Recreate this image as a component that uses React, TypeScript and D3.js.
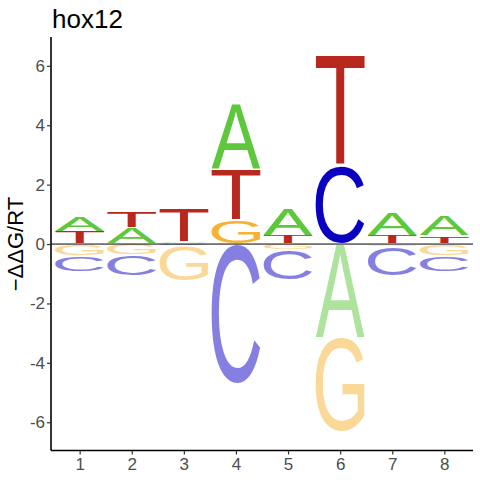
import React, { useRef, useEffect } from 'react';
import * as d3 from 'd3';

// energy logo values (-ddG/RT) per position
const positions = [1, 2, 3, 4, 5, 6, 7, 8];
const bases = ['A', 'C', 'G', 'T'];
const valA = [0.53, 0.54, 0.08, 2.21, 0.92, -3.16, 0.77, 0.68];
const valC = [-0.53, -0.71, -0.06, -4.7, -1.01, 2.62, -0.97, -0.54];
const valG = [-0.4, -0.37, -1.17, 0.81, -0.2, -3.17, -0.1, -0.39];
const valT = [0.41, 0.55, 1.14, 1.71, 0.3, 3.71, 0.3, 0.27];
const yTicks = [-6, -4, -2, 0, 2, 4, 6];
const baseColors = ['#5dc83b', '#0a00c2', '#f6b232', '#b8281f'];

const FONT = "'Liberation Sans', Arial, sans-serif";

const W = 480;
const H = 480;
const margin = { left: 51, right: 7, top: 37, bottom: 29.5 };

// tight ink box of a glyph at 100px
const measureGlyph = (ch: string) => {
  const ctx = document.createElement('canvas').getContext('2d')!;
  ctx.font = `100px ${FONT}`;
  const m = ctx.measureText(ch);
  return {
    left: m.actualBoundingBoxLeft,
    right: m.actualBoundingBoxRight,
    ascent: m.actualBoundingBoxAscent,
    descent: m.actualBoundingBoxDescent,
  };
};

const App: React.FC = () => {
  const svgRef = useRef<SVGSVGElement>(null);

  useEffect(() => {
    const svg = d3.select(svgRef.current);
    svg.selectAll('*').remove();

    const x = d3.scaleLinear().domain([0.45, 8.55]).range([margin.left, W - margin.right]);
    const y = d3.scaleLinear().domain([-6.95, 6.97]).range([H - margin.bottom, margin.top]);

    const series = [valA, valC, valG, valT];
    const glyphs = bases.map(measureGlyph);
    const letterW = 0.94;
    const pad = 0.6;

    const g = svg.append('g');

    positions.forEach((p, i) => {
      const items = bases.map((b, k) => ({ b, k, v: series[k][i] }));
      const pos = items.filter(d => d.v > 0).sort((a, b) => a.v - b.v);
      const neg = items.filter(d => d.v < 0).sort((a, b) => b.v - a.v);

      const x0 = x(p - letterW / 2);
      const x1 = x(p + letterW / 2);

      const draw = (d: { b: string; k: number; v: number }, lo: number, hi: number, negative: boolean) => {
        const yTop = y(hi) + pad;
        const yBot = y(lo) - pad;
        const h = yBot - yTop;
        if (h <= 0.2) return;
        const gm = glyphs[d.k];
        const sx = (x1 - x0) / (gm.left + gm.right);
        const sy = h / (gm.ascent + gm.descent);
        g.append('text')
          .attr('font-family', FONT)
          .attr('font-size', 100)
          .attr('fill', baseColors[d.k])
          .attr('fill-opacity', negative ? 0.5 : 1)
          .attr('transform', `translate(${x0},${yTop}) scale(${sx},${sy}) translate(${gm.left},${gm.ascent})`)
          .text(d.b);
      };

      let acc = 0;
      pos.forEach(d => {
        draw(d, acc, acc + d.v, false);
        acc += d.v;
      });
      acc = 0;
      neg.forEach(d => {
        draw(d, acc + d.v, acc, true);
        acc += d.v;
      });
    });

    // zero line
    svg.append('line')
      .attr('x1', margin.left)
      .attr('x2', W - margin.right)
      .attr('y1', y(0))
      .attr('y2', y(0))
      .attr('stroke', '#000')
      .attr('stroke-width', 1);

    // y axis
    const yAxis = svg.append('g')
      .attr('transform', `translate(${margin.left},0)`)
      .call(d3.axisLeft(y).tickValues(yTicks).tickSize(4).tickPadding(2).tickFormat(d3.format('d')));
    yAxis.select('.domain').attr('stroke', '#000').attr('stroke-width', 1.6)
      .attr('d', `M0,${margin.top}V${H - margin.bottom}`);
    yAxis.selectAll('.tick line').attr('stroke', '#333').attr('stroke-width', 1.2);
    yAxis.selectAll('.tick text')
      .attr('fill', '#4d4d4d')
      .attr('font-size', 17)
      .attr('font-family', FONT)
      .text(d => String(d).replace('−', '-'));

    // x axis
    const xAxis = svg.append('g')
      .attr('transform', `translate(0,${H - margin.bottom})`)
      .call(d3.axisBottom(x).tickValues(positions).tickSize(4).tickPadding(3).tickFormat(d3.format('d')));
    xAxis.select('.domain').attr('stroke', '#000').attr('stroke-width', 1.6)
      .attr('d', `M${margin.left},0H${W - margin.right}`);
    xAxis.selectAll('.tick line').attr('stroke', '#333').attr('stroke-width', 1.2);
    xAxis.selectAll('.tick text')
      .attr('fill', '#4d4d4d')
      .attr('font-size', 17)
      .attr('font-family', FONT);

    // y label
    svg.append('text')
      .attr('transform', `translate(23,${y(0)}) rotate(-90)`)
      .attr('text-anchor', 'middle')
      .attr('font-family', FONT)
      .attr('font-size', 22)
      .attr('fill', '#000')
      .text('−ΔΔG/RT');

    // title
    svg.append('text')
      .attr('x', 52)
      .attr('y', 27.5)
      .attr('font-family', FONT)
      .attr('font-size', 26)
      .attr('fill', '#000')
      .text('hox12');
  }, []);

  return (
    <div style={{ position: 'fixed', left: 0, top: 0, background: '#fff' }}>
      <svg ref={svgRef} width={W} height={H} style={{ display: 'block' }} />
    </div>
  );
};

export default App;
